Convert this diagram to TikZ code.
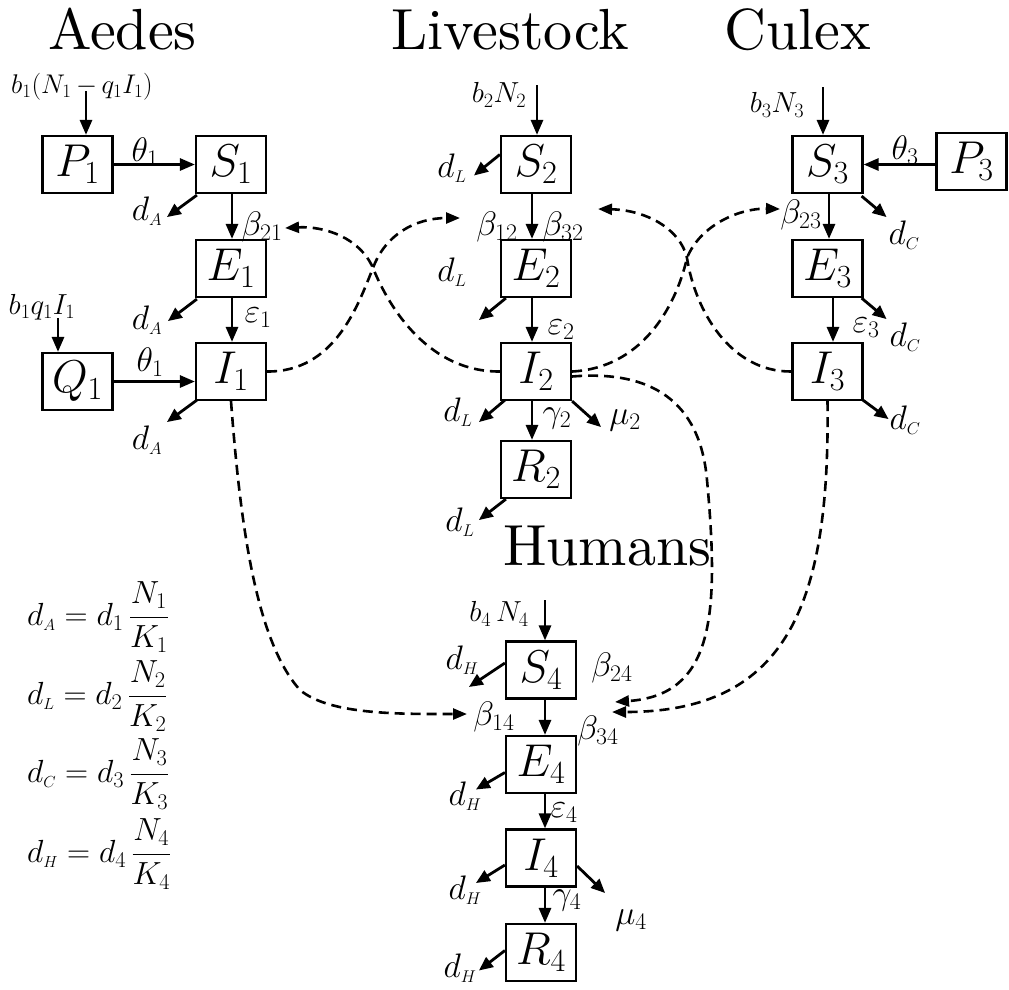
\RequirePackage{fix-cm}
\documentclass[tikz,border=0pt]{standalone}
\usepackage{fontspec}
\setmainfont{lmroman10-regular.otf}[ItalicFont=lmroman10-italic.otf]
\usetikzlibrary{arrows.meta}
\begin{document}
\begin{tikzpicture}[x=1pt,y=-1pt,
  box/.style={draw, line width=2.2pt, minimum width=70pt, minimum height=57pt, inner sep=0pt, font=\fontsize{46}{46}\selectfont},
  flow/.style={line width=2.8pt, -{Triangle[length=15pt,width=12pt]}},
  loss/.style={line width=2.8pt, -{Triangle[length=14pt,width=12pt]}},
  link/.style={line width=2.6pt, dash pattern=on 10pt off 6pt, -{Triangle[length=14pt,width=11pt]}},
  lab/.style={inner sep=0pt, font=\fontsize{34}{34}\selectfont},
  dlab/.style={inner sep=0pt, font=\fontsize{34}{34}\selectfont},
  inlab/.style={inner sep=0pt, font=\fontsize{29}{29}\selectfont},
  title/.style={inner sep=0pt, anchor=base west, font=\fontsize{58}{58}\selectfont},
  eqlab/.style={inner sep=0pt, anchor=west, font=\fontsize{32}{32}\selectfont}]
\useasboundingbox (0,0) rectangle (1009,989);
% titles
\node[title] (tA) at (48,49) {Aedes};
\node[title] (tL) at (391,49) {Livestock};
\node[title] (tC) at (724,49) {Culex};
\node[title] (tH) at (503,565) {Humans};
% boxes
\node[box] (P1) at (77.5,164.5) {$P_1$};
\node[box] (S1) at (231,164.5) {$S_1$};
\node[box] (E1) at (231,268.5) {$E_1$};
\node[box] (I1) at (231,371.5) {$I_1$};
\node[box] (Q1) at (77.5,381.5) {$Q_1$};
\node[box] (S2) at (536,164.5) {$S_2$};
\node[box] (E2) at (536,268.5) {$E_2$};
\node[box] (I2) at (536,371.5) {$I_2$};
\node[box] (R2) at (536,469.5) {$R_2$};
\node[box] (S3) at (827.5,164.5) {$S_3$};
\node[box] (P3) at (971.5,161.5) {$P_3$};
\node[box] (E3) at (827.5,268.5) {$E_3$};
\node[box] (I3) at (827.5,371.5) {$I_3$};
\node[box] (S4) at (541,670) {$S_4$};
\node[box] (E4) at (541,764.5) {$E_4$};
\node[box] (I4) at (541,858) {$I_4$};
\node[box] (R4) at (541,952.5) {$R_4$};
% input labels
\node[inlab, font=\fontsize{27}{27}\selectfont] (lP1) at (82,87) {$b_1(N_1\,{-}\,q_1I_1)$};
\node[inlab] (lS2) at (499,95) {$b_2N_2$};
\node[inlab] (lS3) at (777,105) {$b_3N_3$};
\node[inlab] (lQ1) at (42,307) {$b_1q_1I_1$};
\node[inlab] (lS4) at (499,614) {$b_4\,N_4$};
\coordinate (inP1) at (86,91);
\coordinate (inS2) at (537,85);
\coordinate (inS3) at (823,87);
\coordinate (inQ1) at (58,318);
\coordinate (inS4) at (545,600);
\draw[flow] (inP1) -- (inP1 |- P1.north);
\draw[flow] (inS2) -- (inS2 |- S2.north);
\draw[flow] (inS3) -- (inS3 |- S3.north);
\draw[flow] (inQ1) -- (inQ1 |- Q1.north);
\draw[flow] (inS4) -- (inS4 |- S4.north);
% horizontal flows
\draw[flow] (P1.east) -- (S1.west);
\draw[flow] (Q1.east) -- (Q1.east -| I1.west);
\draw[flow] (S3.east -| P3.west) -- (S3.east);
% vertical flows
\draw[flow] ([shift={(1,0)}]S1.south) -- ([shift={(1,0)}]E1.north);
\draw[flow] ([shift={(1,0)}]E1.south) -- ([shift={(1,0)}]I1.north);
\draw[flow] ([shift={(-4,0)}]S2.south) -- ([shift={(-4,0)}]E2.north);
\draw[flow] ([shift={(-4,0)}]E2.south) -- ([shift={(-4,0)}]I2.north);
\draw[flow] ([shift={(-4,0)}]I2.south) -- ([shift={(-4,0)}]R2.north);
\draw[flow] ([shift={(1.5,0)}]S3.south) -- ([shift={(1.5,0)}]E3.north);
\draw[flow] ([shift={(5.5,0)}]E3.south) -- ([shift={(5.5,0)}]I3.north);
\draw[flow] ([shift={(4,0)}]S4.south) -- ([shift={(4,0)}]E4.north);
\draw[flow] ([shift={(4,0)}]E4.south) -- ([shift={(4,0)}]I4.north);
\draw[flow] ([shift={(4,0)}]I4.south) -- ([shift={(4,0)}]R4.north);
% loss arrows
\draw[loss] ([shift={(2,1)}]S1.south west) -- ++(-30,22) coordinate (oS1);
\draw[loss] ([shift={(2,1)}]E1.south west) -- ++(-29,22) coordinate (oE1);
\draw[loss] ([shift={(2,-1)}]I1.south west) -- ++(-30,22) coordinate (oI1);
\draw[loss] ([shift={(0,-10)}]S2.west) -- ++(-26,21) coordinate (oS2);
\draw[loss] ([shift={(6,0)}]E2.south west) -- ++(-27,22) coordinate (oE2);
\draw[loss] ([shift={(5,-1)}]I2.south west) -- ++(-26,22) coordinate (oI2);
\draw[loss] (I2.south east) -- ++(29,26) coordinate (mI2);
\draw[loss] ([shift={(6,0)}]R2.south west) -- ++(-27,21) coordinate (oR2);
\draw[loss] ([shift={(-2,2)}]S3.south east) -- ++(25,21) coordinate (oS3);
\draw[loss] ([shift={(-2,0)}]E3.south east) -- ++(25,21) coordinate (oE3);
\draw[loss] ([shift={(-2,-2)}]I3.south east) -- ++(27,20) coordinate (oI3);
\draw[loss] ([shift={(0,-7)}]S4.west) -- ++(-36,24) coordinate (oS4);
\draw[loss] ([shift={(0,8)}]E4.west) -- ++(-29,17) coordinate (oE4);
\draw[loss] ([shift={(0,7)}]I4.west) -- ++(-29,18) coordinate (oI4);
\draw[loss] ([shift={(0,8)}]I4.east) -- ++(28,27) coordinate (mI4);
\draw[loss] ([shift={(0,-2)}]R4.west) -- ++(-26,20) coordinate (oR4);
% rate labels
\node[lab] (th1) at (145,152) {$\theta_1$};
\node[lab] (th1b) at (150,362) {$\theta_1$};
\node[lab] (b21) at (262,227) {$\beta_{21}$};
\node[lab] (e1) at (258,318) {$\varepsilon_1$};
\node[lab] (b12) at (497,227) {$\beta_{12}$};
\node[lab] (b32) at (563,227) {$\beta_{32}$};
\node[lab] (e2) at (561,330) {$\varepsilon_2$};
\node[lab] (g2) at (557,418) {$\gamma_2$};
\node[lab] (m2) at (625,420) {$\mu_2$};
\node[lab] (th3) at (905,150) {$\theta_3$};
\node[lab] (b23) at (801,215) {$\beta_{23}$};
\node[lab] (e3) at (866,328) {$\varepsilon_3$};
\node[lab] (b24) at (612,668) {$\beta_{24}$};
\node[lab] (b14) at (494,717) {$\beta_{14}$};
\node[lab] (b34) at (598,731) {$\beta_{34}$};
\node[lab] (e4) at (564,813) {$\varepsilon_4$};
\node[lab] (g4) at (567,900) {$\gamma_4$};
\node[lab] (m4) at (631,920) {$\mu_4$};
% loss labels
\node[dlab] (dA1) at (147,211) {$d_{\scriptscriptstyle A}$};
\node[dlab] (dA2) at (147,320) {$d_{\scriptscriptstyle A}$};
\node[dlab] (dA3) at (147,440) {$d_{\scriptscriptstyle A}$};
\node[dlab] (dL1) at (452,168) {$d_{\scriptscriptstyle L}$};
\node[dlab] (dL2) at (452,272) {$d_{\scriptscriptstyle L}$};
\node[dlab] (dL3) at (458,412) {$d_{\scriptscriptstyle L}$};
\node[dlab] (dL4) at (460,522) {$d_{\scriptscriptstyle L}$};
\node[dlab] (dC1) at (904,235) {$d_{\scriptscriptstyle C}$};
\node[dlab] (dC2) at (905,337) {$d_{\scriptscriptstyle C}$};
\node[dlab] (dC3) at (905,420) {$d_{\scriptscriptstyle C}$};
\node[dlab] (dH1) at (462,660) {$d_{\scriptscriptstyle H}$};
\node[dlab] (dH2) at (465,796) {$d_{\scriptscriptstyle H}$};
\node[dlab] (dH3) at (465,890) {$d_{\scriptscriptstyle H}$};
\node[dlab] (dH4) at (460,968) {$d_{\scriptscriptstyle H}$};
% transmission links
\coordinate (t12) at (460,218);
\coordinate (t21) at (285,228);
\coordinate (t23) at (780,209);
\coordinate (t32) at (598,209);
\coordinate (t24) at (615,702);
\coordinate (t34) at (612,712);
\coordinate (t14) at (467,714);
\draw[link] (I1.east) .. controls (335,372) and (358,305) .. (373,268) .. controls (385,235) and (415,218) .. (t12);
\draw[link] (I2.west) .. controls (430,372) and (390,310) .. (373,268) .. controls (360,238) and (325,226) .. (t21);
\draw[link] (I2.east) .. controls (640,368) and (675,310) .. (687,258) .. controls (700,225) and (740,208) .. (t23);
\draw[link] (I3.west) .. controls (730,372) and (695,310) .. (687,258) .. controls (680,228) and (645,210) .. (t32);
\draw[link] ([shift={(0,5)}]I2.east) .. controls (650,370) and (700,400) .. (707,480) .. controls (720,620) and (712,695) .. (t24);
\draw[link] (I3.south) .. controls (830,600) and (790,712) .. (t34);
\draw[link] (I1.south) .. controls (240,520) and (255,640) .. (300,690) .. controls (330,715) and (400,714) .. (t14);
% legend
\node[eqlab] (eqA) at (27,617) {$\displaystyle d_{\scriptscriptstyle A} = d_1\,\frac{N_1}{K_1}$};
\node[eqlab] (eqL) at (27,696) {$\displaystyle d_{\scriptscriptstyle L} = d_2\,\frac{N_2}{K_2}$};
\node[eqlab] (eqC) at (27,774) {$\displaystyle d_{\scriptscriptstyle C} = d_3\,\frac{N_3}{K_3}$};
\node[eqlab] (eqH) at (27,854) {$\displaystyle d_{\scriptscriptstyle H} = d_4\,\frac{N_4}{K_4}$};
\end{tikzpicture}
\end{document}
